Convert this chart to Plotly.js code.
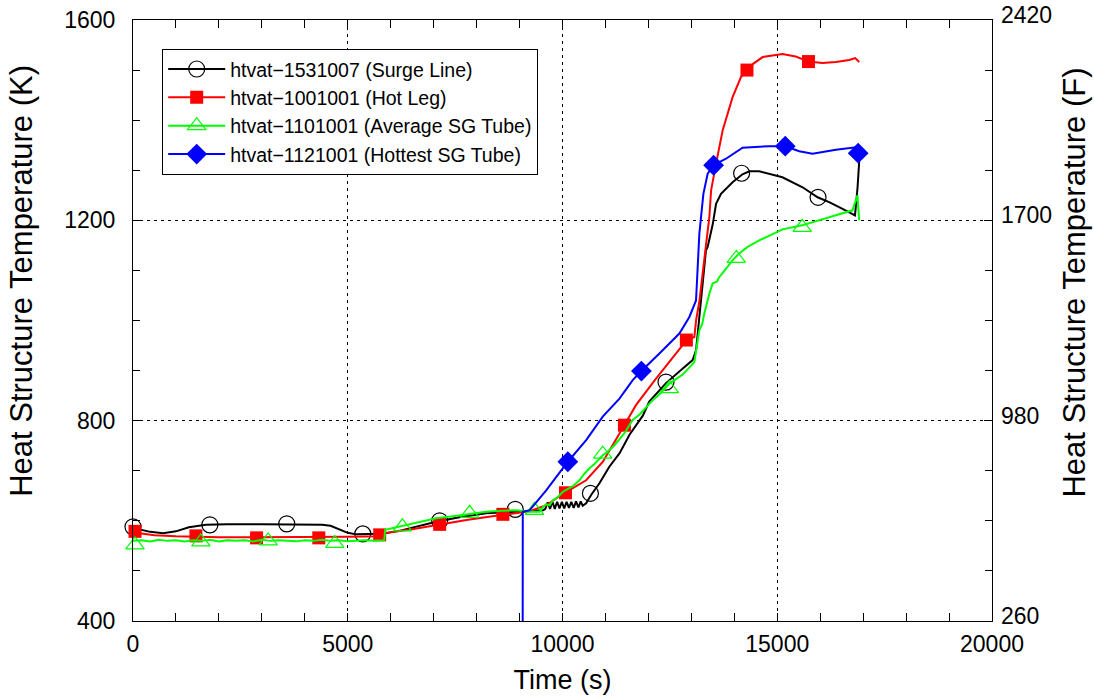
<!DOCTYPE html>
<html>
<head>
<meta charset="utf-8">
<script src="https://cdn.plot.ly/plotly-3.0.1.min.js"></script>
<style>
html,body{margin:0;padding:0;background:#fff;}
#chart{width:1094px;height:700px;}
</style>
</head>
<body>
<div id="chart"></div>
<script>
// ---------------- data ----------------
// Surge line (black)
const surgeT = [0,150,400,700,1000,1300,1700,2200,3000,3800,4400,4600,4800,5000,5200,5500,5800,6200,6600,7060,7600,8220,8900,9100,9300,9550,
  9600,9655,9710,9765,9820,9875,9930,9985,10040,10095,10150,10205,10260,10315,10370,10425,10470,
  10550,10670,10860,11090,11330,11560,11870,12020,12180,12410,12800,13030,13110,13150,13190,13260,13340,13380,13500,13575,13690,13960,14190,14350,14580,15120,15590,15940,16220,16520,16750,16810,16870,16910];
const surgeK = [587,583,578,575,579,587,592,593,593,593,592,590,583,576,573,573,574,580,588,598,607,615,618,619,620,621,
  624,637,624,638,624,638,625,638,625,638,626,638,626,639,627,639,630,
  635,652,675,708,735,772,810,838,854,875,904,921,941,974,1007,1074,1140,1147,1193,1233,1253,1276,1292,1298,1298,1286,1266,1246,1236,1223,1213,1210,1266,1320];
const surgeMarkT = [0,1790,3580,5350,7140,8900,10650,12410,14170,15950];
const surgeMarkK = [588,592,594,574,600,623,655,877,1294,1246];

// Hot leg (red)
const hotLegT = [0,150,500,1000,2000,3000,4000,5000,5780,5820,6500,7140,7800,8610,9080,9230,9620,10050,10550,10940,11440,11710,12150,12890,13070,13110,13190,13260,13340,13420,13460,13575,13730,13960,14155,14295,14430,14660,15120,15430,15730,16050,16365,16675,16815,16910];
const hotLegK = [580,575,571,569,567,567,567,568,569,575,583,593,602,612,618,619,631,656,681,718,791,831,881,961,967,1000,1040,1087,1150,1207,1260,1313,1380,1446,1486,1500,1512,1526,1532,1527,1517,1514,1516,1520,1524,1516];
const hotLegMarkT = [47,1465,2877,4326,5744,7140,8612,10070,11442,12884,14295,15727];
const hotLegMarkK = [579,570,566,566,572,593,613,656,791,961,1500,1517];

// Average SG tube (green)
const avgTubeT = [0,200,400,600,800,1000,1200,1400,1600,1800,2000,2200,2400,2600,2800,3000,3200,3400,3600,3800,4000,4200,4400,4600,4800,5000,5200,5400,5600,5850,
  5870,6270,6700,7060,7450,7840,8225,8600,8920,9233,9465,9550,9620,9700,9775,9900,10007,10150,10250,10395,10500,10628,10750,10937,11050,11200,11326,11450,11628,11800,12101,12300,12488,12800,13070,13109,13186,13250,13302,13419,13496,13600,13651,13721,13960,14116,14310,14581,15123,15581,16054,16365,16751,16867,16907];
const avgTubeK = [560,561,559,562,560,561,559,561,560,562,559,561,560,561,559,562,560,561,560,559,561,560,562,560,561,559,560,561,560,561,
  582,590,598,605,609,613,618,620,621,618,618,628,633,631,641,648,658,665,670,681,693,705,714,731,738,750,764,776,801,813,841,856,874,892,917,941,981,992,1014,1054,1074,1078,1087,1094,1120,1134,1147,1160,1182,1190,1203,1210,1220,1250,1200];
const avgTubeMarkT = [47,1581,3147,4698,6272,7837,9349,10937,12488,14047,15581];
const avgTubeMarkK = [552,558,560,555,588,615,621,733,864,1124,1186];

// Hottest SG tube (blue)
const hotTubeT = [9070,9075,9233,9465,9620,10124,10551,10937,11326,11635,11837,12256,12721,12954,13109,13186,13225,13280,13380,13518,13806,14193,14814,15186,15512,15821,16365,16830,16900];
const hotTubeK = [0,618,621,645,661,718,761,808,844,881,899,934,974,1007,1040,1173,1207,1253,1293,1310,1323,1345,1348,1348,1338,1333,1341,1346,1340];
const hotTubeMarkT = [10124,11837,13518,15186,16884];
const hotTubeMarkK = [718,899,1310,1348,1334];

const seriesNames = ['htvat\u22121531007 (Surge Line)','htvat\u22121001001 (Hot Leg)','htvat\u22121101001 (Average SG Tube)','htvat\u22121121001 (Hottest SG Tube)'];
const timeTicks = [0,5000,10000,15000,20000];
const timeTickText = ['0','5000','10000','15000','20000'];
const leftTicks = [400,800,1200,1600];
const rightTickF = [260,980,1700,2420];
const leftTitle = 'Heat Structure Temperature (K)';
const rightTitle = 'Heat Structure Temperature (F)';

// ---------------- styles ----------------
const styles = [
  {color:'#000000', symbol:'circle-open', size:16, mline:1.2},
  {color:'#ff0000', symbol:'square', size:13, mline:0},
  {color:'#00ff00', symbol:'triangle-up-open', size:16, mline:1.2},
  {color:'#0000ff', symbol:'diamond', size:16, mline:0}
];
const lines = [[surgeT,surgeK],[hotLegT,hotLegK],[avgTubeT,avgTubeK],[hotTubeT,hotTubeK]];
const marks = [[surgeMarkT,surgeMarkK],[hotLegMarkT,hotLegMarkK],[avgTubeMarkT,avgTubeMarkK],[hotTubeMarkT,hotTubeMarkK]];

const traces = [];
for (let i=0;i<4;i++){
  const s = styles[i];
  traces.push({x:lines[i][0], y:lines[i][1], mode:'lines', line:{color:s.color,width:2}, showlegend:false, hoverinfo:'skip'});
  traces.push({x:marks[i][0], y:marks[i][1], mode:'markers', showlegend:false, cliponaxis:false,
    marker:{symbol:s.symbol, size:s.size, color:s.color, line:{color:s.color,width:s.mline}}});
}
for (let i=0;i<4;i++){
  const s = styles[i];
  traces.push({x:[null], y:[null], name:seriesNames[i], mode:'lines+markers', legendrank:i+1,
    line:{color:s.color,width:2},
    marker:{symbol:s.symbol, size:s.size, color:s.color, line:{color:s.color,width:s.mline}}});
}
// invisible trace to activate right axis
traces.push({x:[0], y:[260], yaxis:'y2', mode:'markers', marker:{opacity:0}, showlegend:false, hoverinfo:'skip'});

const fontFam = 'Liberation Sans, Arial, Helvetica, sans-serif';
const layout = {
  width:1094, height:700,
  margin:{l:133, r:102, t:20, b:79, pad:0},
  paper_bgcolor:'#fff', plot_bgcolor:'#fff',
  font:{family:fontFam, color:'#000', size:22},
  showlegend:true,
  legend:{x:0.034, y:0.952, xanchor:'left', yanchor:'top', bgcolor:'#fff', bordercolor:'#000', borderwidth:1,
    font:{size:19.5, family:fontFam}, itemwidth:57, tracegroupgap:0, traceorder:'normal'},
  xaxis:{range:[0,20000], tickvals:timeTicks, ticktext:timeTickText, ticks:'inside', ticklen:8, tickcolor:'#000',
    minor:{dtick:1000, ticks:'inside', ticklen:7, tickcolor:'#000', showgrid:false},
    showline:true, linecolor:'#000', linewidth:1, mirror:'allticks',
    showgrid:true, gridcolor:'#000', gridwidth:1, griddash:'3px,4px', zeroline:false,
    tickfont:{size:23}, ticklabelstandoff:2, title:{text:'Time (s)', font:{size:27}, standoff:14}},
  yaxis:{range:[400,1600], tickvals:leftTicks, ticks:'inside', ticklen:8, tickcolor:'#000',
    minor:{dtick:100, ticks:'inside', ticklen:7, tickcolor:'#000', showgrid:false},
    showline:true, linecolor:'#000', linewidth:1, mirror:'allticks',
    showgrid:true, gridcolor:'#000', gridwidth:1, griddash:'3px,4px', zeroline:false,
    tickfont:{size:23}, ticklabelstandoff:12},
  yaxis2:{overlaying:'y', side:'right', range:[260,2420], tickvals:rightTickF, ticks:'', showgrid:false, zeroline:false,
    showline:false, tickfont:{size:23}, ticklabelstandoff:8, ticklabelshift:-5},
  annotations:[
    {text:leftTitle, xref:'paper', yref:'paper', x:-0.1292, y:0.566, xanchor:'center', yanchor:'middle',
     textangle:-90, showarrow:false, font:{size:31, family:fontFam, color:'#000'}},
    {text:rightTitle, xref:'paper', yref:'paper', x:1.0966, y:0.563, xanchor:'center', yanchor:'middle',
     textangle:-90, showarrow:false, font:{size:31, family:fontFam, color:'#000'}}
  ]
};
Plotly.newPlot('chart', traces, layout, {staticPlot:true, displayModeBar:false});
</script>
</body>
</html>
